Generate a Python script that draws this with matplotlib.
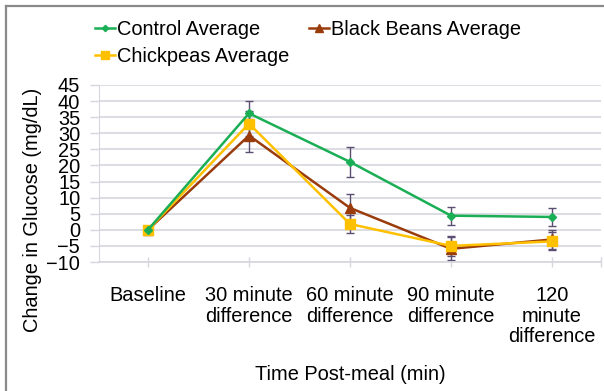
import matplotlib
matplotlib.use("Agg")
import matplotlib.pyplot as plt
from matplotlib.lines import Line2D
from matplotlib.ticker import FixedLocator

plt.rcParams["font.family"] = ["Liberation Sans", "DejaVu Sans"]

# data
categories = ["Baseline", "30 minute\ndifference", "60 minute\ndifference",
              "90 minute\ndifference", "120\nminute\ndifference"]
control = [0, 36.2, 21.1, 4.4, 4.0]
control_err = [0, 3.8, 4.7, 2.8, 2.7]
black_beans = [0, 29.3, 6.8, -5.9, -3.0]
black_beans_err = [0, 5.2, 4.2, 3.6, 3.0]
chickpeas = [0, 33.0, 1.8, -5.0, -3.6]
chickpeas_err = [0, 4.0, 2.7, 3.0, 2.8]

GREEN = "#1aae55"
BROWN = "#9a3b0c"
YELLOW = "#ffc000"
ERR = "#5b4e72"
GRID = "#d6d6de"
FS = 14.4

W, H = 604, 391
fig = plt.figure(figsize=(W / 100, H / 100), dpi=100)
ax = fig.add_axes([99 / W, 1 - 262 / H, (601 - 99) / W, (262 - 85) / H])

x = list(range(len(categories)))

# error bars first so the markers sit on top
for vals, errs in [(control, control_err), (black_beans, black_beans_err),
                   (chickpeas, chickpeas_err)]:
    ax.errorbar(x[1:], vals[1:], yerr=errs[1:], fmt="none", ecolor=ERR,
                elinewidth=1.0, capsize=3, capthick=1.0, zorder=2)

l_ctrl, = ax.plot(x, control, color=GREEN, lw=1.8, marker="D", ms=4,
                  label="Control Average", zorder=5)
l_bb, = ax.plot(x, black_beans, color=BROWN, lw=1.8, marker="^", ms=7,
                label="Black Beans Average", zorder=3)
l_cp, = ax.plot(x, chickpeas, color=YELLOW, lw=1.8, marker="s", ms=6.5,
                label="Chickpeas Average", zorder=4)

ax.set_xlim(-0.485, 4.485)
ax.set_ylim(-10, 45)
ax.set_yticks(range(-10, 46, 5))
ax.tick_params(axis="y", labelsize=FS, length=6.5, width=1, color=GRID, pad=7)
ax.set_xticks(x)
ax.set_xticklabels(categories, fontsize=FS, linespacing=1.1)
ax.xaxis.set_minor_locator(FixedLocator([4.485]))
ax.tick_params(axis="x", which="both", direction="inout", length=7, width=1,
               color=GRID, pad=14)
for lab in ax.get_xticklabels():
    lab.set_verticalalignment("top")

ax.grid(axis="y", color=GRID, lw=1.2)
ax.set_axisbelow(True)
for s in ["top", "right"]:
    ax.spines[s].set_visible(False)
ax.spines["left"].set_color(GRID)
ax.spines["bottom"].set_color(GRID)
ax.spines["bottom"].set_linewidth(1.2)

ax.set_xlabel("Time Post-meal (min)", fontsize=FS, labelpad=13.5)
fig.text(33 / W, 1 - 210 / H, "Change in Glucose (mg/dL)", rotation=90,
         fontsize=FS, ha="center", va="center")

fig.legend(handles=[l_ctrl, l_cp, l_bb], ncol=2, loc="upper left",
           bbox_to_anchor=(95 / W, 1 - 20 / H), frameon=False, fontsize=FS,
           handlelength=1.0, handletextpad=0.1, columnspacing=1.0,
           labelspacing=0.42, borderaxespad=0, borderpad=0, markerscale=0.8)

# grey frame around the chart area
fig.add_artist(Line2D([6 / W, 6 / W], [0, 1 - 5.5 / H], color="#8a8a8a", lw=1.6))
fig.add_artist(Line2D([6 / W, 1], [1 - 5.5 / H, 1 - 5.5 / H], color="#8a8a8a", lw=1.6))

fig.savefig("out.png", dpi=100)
